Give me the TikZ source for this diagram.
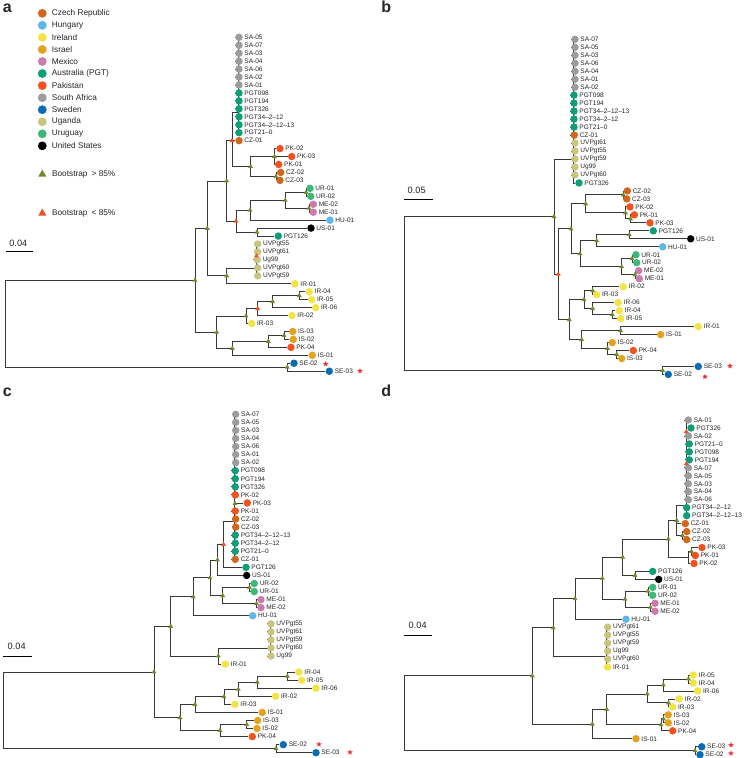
\documentclass[tikz,border=0pt]{standalone}
\usepackage{fontspec}
\setmainfont{Liberation Sans}
\usetikzlibrary{shapes.geometric,backgrounds}
\definecolor{czc}{HTML}{D2661C}
\definecolor{huc}{HTML}{5BB7E8}
\definecolor{irc}{HTML}{F2E443}
\definecolor{isc}{HTML}{E6A11C}
\definecolor{mec}{HTML}{CC7AAE}
\definecolor{auc}{HTML}{0E9E78}
\definecolor{pkc}{HTML}{F4511E}
\definecolor{sac}{HTML}{9C9C9C}
\definecolor{sec}{HTML}{0A6DB3}
\definecolor{ugc}{HTML}{C9C480}
\definecolor{uyc}{HTML}{3DB877}
\definecolor{usc}{HTML}{000000}
\definecolor{bsgc}{HTML}{6E8B2E}
\definecolor{bsrc}{HTML}{E9541E}
\definecolor{starc}{HTML}{E8313A}

\begin{document}
\begin{tikzpicture}[x=0.75pt, y=-0.75pt,
      every node/.style={font=\fontsize{4.9}{5.6}\selectfont, text=black!85},
      leaf/.style={circle, inner sep=0pt, minimum size=5.6pt},
      lab/.style={inner sep=0.4pt, label distance=0.5pt},
      br/.style={draw=black!78, line width=0.62pt},
      bsg/.style={regular polygon, regular polygon sides=3, inner sep=0pt,
                  minimum size=4.3pt, fill=bsgc},
      bsr/.style={bsg, fill=bsrc},
      sstar/.style={star, star points=5, star point ratio=2.3, inner sep=0pt,
                    minimum size=4.4pt, fill=starc},
      lgd/.style={circle, inner sep=0pt, minimum size=6.6pt},
      lgdlab/.style={font=\fontsize{6.2}{7}\selectfont, inner sep=0.5pt, label distance=3pt},
      scl/.style={font=\fontsize{6.9}{8}\selectfont, inner sep=0pt},
      panel/.style={font=\fontsize{12}{14}\selectfont\bfseries, inner sep=0pt, anchor=base west}]
    \useasboundingbox (0,0) rectangle (744,758);

    % panel letters
    \node[panel] (pa) at (2.7,12.3) {a};
    \node[panel] (pb) at (381,12.3) {b};
    \node[panel] (pc) at (2.7,396) {c};
    \node[panel] (pd) at (381,396) {d};

    % legend
    \foreach \col/\lbl [count=\i from 0] in {czc/Czech Republic, huc/Hungary, irc/Ireland,
        isc/Israel, mec/Mexico, auc/Australia (PGT), pkc/Pakistan, sac/South Africa,
        sec/Sweden, ugc/Uganda, uyc/Uruguay, usc/United States}
      \node[lgd, fill=\col, label={[lgdlab]right:\lbl}] (lg\i) at (42.3,{13.3+12.05*\i}) {};
    \node[bsg, minimum size=7pt] (lgg) at (42.3,174.3) {};
    \node[lgdlab, anchor=west] (lggt) at (51.2,174.3) {Bootstrap\enspace> 85\%};
    \node[bsr, minimum size=7pt] (lgr) at (42.3,213.3) {};
    \node[lgdlab, anchor=west] (lgrt) at (51.2,213.3) {Bootstrap\enspace< 85\%};

    % scale bars
    \node[scl] (sa) at (18.3,243.3) {0.04};
    \draw[line width=0.6pt] (6,251.7) -- (33.3,251.7);
    \node[scl] (sb) at (416.7,190) {0.05};
    \draw[line width=0.6pt] (404,199) -- (432.7,199);
    \node[scl] (sc) at (16.7,646.7) {0.04};
    \draw[line width=0.6pt] (3.3,656) -- (31.7,656);
    \node[scl] (sd) at (417.7,625.7) {0.04};
    \draw[line width=0.6pt] (404,635) -- (431.7,635);

    % ---- panel a ----
    \foreach \nm/\x/\col/\lbl [count=\i from 0] in {SA05/239/sac/SA-05, SA07/239/sac/SA-07,
        SA03/239/sac/SA-03, SA04/239/sac/SA-04, SA06/239/sac/SA-06, SA02/239/sac/SA-02,
        SA01/239/sac/SA-01, P098/239/auc/PGT098, P194/239/auc/PGT194, P326/239/auc/PGT326,
        P3412/239/auc/PGT34–2–12, P341213/239/auc/PGT34–2–12–13, P210/239/auc/PGT21–0,
        CZ01/239/czc/CZ-01, PK02/280/pkc/PK-02, PK03/291.7/pkc/PK-03, PK01/278.7/pkc/PK-01,
        CZ02/280.7/czc/CZ-02, CZ03/280/czc/CZ-03, UR01/310/uyc/UR-01, UR02/310.7/uyc/UR-02,
        ME02/313.3/mec/ME-02, ME01/313.3/mec/ME-01, HU01/330/huc/HU-01, US01/311/usc/US-01,
        P126/278.3/auc/PGT126, UV55/257.7/ugc/UVPgt55, UV61/257.7/ugc/UVPgt61,
        Ug99/257.3/ugc/Ug99, UV60/257.7/ugc/UVPgt60, UV59/257.7/ugc/UVPgt59,
        IR01/295/irc/IR-01, IR04/309.3/irc/IR-04, IR05/311.7/irc/IR-05, IR06/315.7/irc/IR-06,
        IR02/292/irc/IR-02, IR03/251.7/irc/IR-03, IS03/292.7/isc/IS-03, IS02/293.3/isc/IS-02,
        PK04/291/pkc/PK-04, IS01/312.3/isc/IS-01, SE02/294/sec/SE-02, SE03/329.3/sec/SE-03}
      \node[leaf, fill=\col, label={[lab]right:\lbl}] (a\nm) at (\x,{37.3+7.95*\i}) {};
    \foreach \nm/\x/\y in {aSAs/238/112.8, aX/232/140.7, aPKCZ/250.7/166.5, aPK/274.5/156.6,
        aCZ/276/176.5, aN1/306/192.4, aN2/309/208.2, aN3/285.3/200.3, aN4/250/210.2,
        aN5/257/232.1, aN6/236/221.2, aNA/226.7/181, aUGs/256.5/268, aUGr/256.5/256,
        aN7/226.7/275.9, aNB/207.3/228.4, aN8/299.3/295.7, aN9/272.7/301.7,
        aN10/257.7/308.6, aN11/246/316, aN12/284/335.5, aN13/268.3/341.4,
        aN14/232.3/348.4, aN15/216.7/332.2, aN16/195/280.3, aSE/287.3/367.3,
        aRoot/5.7/323.8}
      \coordinate (\nm) at (\x,\y);

    % ---- panel b ----
    \foreach \nm/\x/\col/\lbl [count=\i from 0] in {SA07/575/sac/SA-07, SA05/575/sac/SA-05,
        SA03/575/sac/SA-03, SA06/575/sac/SA-06, SA04/575/sac/SA-04, SA01/575/sac/SA-01,
        SA02/575/sac/SA-02, P098/574/auc/PGT098, P194/574/auc/PGT194,
        P341213/574/auc/PGT34–2–12–13, P3412/574/auc/PGT34–2–12, P210/574/auc/PGT21–0,
        CZ01/574.3/czc/CZ-01, UV61/575/ugc/UVPgt61, UV55/575/ugc/UVPgt55,
        UV59/575/ugc/UVPgt59, Ug99/575/ugc/Ug99, UV60/575/ugc/UVPgt60, P326/579/auc/PGT326,
        CZ02/627.3/czc/CZ-02, CZ03/626.7/czc/CZ-03, PK02/630/pkc/PK-02, PK01/634.3/pkc/PK-01,
        PK03/650/pkc/PK-03, P126/653.3/auc/PGT126, US01/690.7/usc/US-01, HU01/662.7/huc/HU-01,
        UR01/636/uyc/UR-01, UR02/636.7/uyc/UR-02, ME02/638.7/mec/ME-02, ME01/639.3/mec/ME-01,
        IR02/623.3/irc/IR-02, IR03/596.7/irc/IR-03, IR06/618.3/irc/IR-06, IR04/619.3/irc/IR-04,
        IR05/620.7/irc/IR-05, IR01/698.3/irc/IR-01, IS01/660.7/isc/IS-01, IS02/612.3/isc/IS-02,
        PK04/633.3/pkc/PK-04, IS03/621.7/isc/IS-03, SE03/698.3/sec/SE-03, SE02/668.3/sec/SE-02}
      \node[leaf, fill=\col, label={[lab]right:\lbl}] (b\nm) at (\x,{39.3+7.98*\i}) {};
    \foreach \nm/\x/\y in {bSAs/573.3/159, bN1/623.3/194.9, bN2/630.5/218.9, bN3/625.5/212.9,
        bN4/585.7/203.9, bN5/629.3/234.8, bN6/596.7/240.8, bN7/632/258.8, bN8/635/274.7,
        bN9/621.7/266.8, bN10/580/253.8, bN11/571/228.9, bN12/592.7/290.7,
        bN13/612.3/314.6, bN14/592.7/308.6, bN15/584/299.7, bN16/620.7/330.6,
        bN17/616.7/354.5, bN18/607.5/348.5, bN19/581.7/339.6, bN20/569.3/319.6,
        bN21/558.3/274.2, bN22/554/216.6, bSE/662.7/370.5, bRoot/404/293.6}
      \coordinate (\nm) at (\x,\y);

    % ---- panel c ----
    \foreach \nm/\x/\col/\lbl [count=\i from 0] in {SA07/235.7/sac/SA-07, SA05/235.7/sac/SA-05,
        SA03/235.7/sac/SA-03, SA04/235.7/sac/SA-04, SA06/235.7/sac/SA-06, SA01/235.7/sac/SA-01,
        SA02/235.7/sac/SA-02, P098/235.3/auc/PGT098, P194/235.3/auc/PGT194,
        P326/235.3/auc/PGT326, PK02/235.3/pkc/PK-02, PK03/247.3/pkc/PK-03,
        PK01/235.3/pkc/PK-01, CZ02/235.7/czc/CZ-02, CZ03/235.7/czc/CZ-03,
        P341213/235.3/auc/PGT34–2–12–13, P3412/235.3/auc/PGT34–2–12, P210/235.3/auc/PGT21–0,
        CZ01/235.3/czc/CZ-01, P126/246/auc/PGT126, US01/246.7/usc/US-01,
        UR02/254.3/uyc/UR-02, UR01/254.3/uyc/UR-01, ME01/261/mec/ME-01, ME02/261/mec/ME-02,
        HU01/252.7/huc/HU-01, UV55/271/ugc/UVPgt55, UV61/271/ugc/UVPgt61,
        UV59/271/ugc/UVPgt59, UV60/271/ugc/UVPgt60, Ug99/271/ugc/Ug99, IR01/225.3/irc/IR-01,
        IR04/299/irc/IR-04, IR05/301.7/irc/IR-05, IR06/316/irc/IR-06, IR02/275.7/irc/IR-02,
        IR03/235/irc/IR-03, IS01/262.3/isc/IS-01, IS03/257.7/isc/IS-03, IS02/257/isc/IS-02,
        PK04/252.3/pkc/PK-04, SE02/283.3/sec/SE-02, SE03/316/sec/SE-03}
      \node[leaf, fill=\col, label={[lab]right:\lbl}] (c\nm) at (\x,{414.3+8.057*\i}) {};
    \foreach \nm/\x/\y in {cSAs/234.5/521.7, cPKm/235/503.5, cN1/223.5/544.5, cN2/217.5/560,
        cN3/249.5/587.5, cN4/256.5/603.7, cN5/222.7/595.6, cN6/210/577.8, cN7/193.3/596.8,
        cUGs/270/648, cN8/218.3/656, cN9/170.7/626.4, cN10/287.3/676.2, cN11/257.3/682.2,
        cN12/238.3/689.3, cN13/224/696.8, cN14/195/704.6, cN15/246.7/724.5,
        cN16/220/730.5, cN17/180/717.6, cN18/154/672, cSE/276/748.6, cRoot/3.3/710.3}
      \coordinate (\nm) at (\x,\y);

    % ---- panel d ----
    \foreach \nm/\x/\col/\lbl [count=\i from 0] in {SA01/688.3/sac/SA-01, P326/691/auc/PGT326,
        SA02/688.3/sac/SA-02, P210/689.3/auc/PGT21–0, P098/689.3/auc/PGT098,
        P194/689.3/auc/PGT194, SA07/688.3/sac/SA-07, SA05/688.3/sac/SA-05,
        SA03/688.3/sac/SA-03, SA04/688.3/sac/SA-04, SA06/688.3/sac/SA-06,
        P3412/686.7/auc/PGT34–2–12, P341213/686.7/auc/PGT34–2–12–13, CZ01/685.3/czc/CZ-01,
        CZ02/686.7/czc/CZ-02, CZ03/686.7/czc/CZ-03, PK03/702/pkc/PK-03, PK01/695.3/pkc/PK-01,
        PK02/694/pkc/PK-02, P126/652.7/auc/PGT126, US01/658.7/usc/US-01,
        UR01/652.7/uyc/UR-01, UR02/652.7/uyc/UR-02, ME01/655/mec/ME-01, ME02/655/mec/ME-02,
        HU01/626/huc/HU-01, UV61/607.7/ugc/UVPgt61, UV55/607.7/ugc/UVPgt55,
        UV59/607.7/ugc/UVPgt59, Ug99/607.7/ugc/Ug99, UV60/607.7/ugc/UVPgt60,
        IR01/607.7/irc/IR-01, IR05/693.3/irc/IR-05, IR04/693.3/irc/IR-04, IR06/697.7/irc/IR-06,
        IR02/679.3/irc/IR-02, IR03/672.7/irc/IR-03, IS03/668.3/isc/IS-03, IS02/668.3/isc/IS-02,
        PK04/672.7/pkc/PK-04, IS01/636/isc/IS-01, SE03/701.7/sec/SE-03, SE02/700/sec/SE-02}
      \node[leaf, fill=\col, label={[lab]right:\lbl}] (d\nm) at (\x,{420+7.969*\i}) {};
    \foreach \nm/\x/\y in {dSAs/686.3/505.3, dSr1/686.3/431.8, dSr2/686.3/463.8,
        dCZ/682.5/535.5, dN1/676.7/520.5, dPK1/691.5/551.5, dPK/688.5/557.4, dN2/668.3/539,
        dN3/635/575.4, dN4/622.7/557.2, dN5/648/591.3, dN6/650.5/607.3, dN7/625/599.3,
        dN8/602.3/578.3, dN9/575/598.8, dUGs/606.2/656.7, dN10/553.3/627.8,
        dIR54/688.5/679, dN11/663.3/685, dIR23/668.5/702.9, dN12/647.3/694,
        dIS/663.5/718.9, dN13/661/724.8, dN14/606.7/709.4, dN15/592.3/724.1,
        dN16/532.3/675.9, dSE/695/750.7, dRoot/404/713.3}
      \coordinate (\nm) at (\x,\y);

    % branches, behind the tips
    \begin{scope}[on background layer]
      \fill[white] (0,0) rectangle (744,758);
      \foreach \q in {SA05,SA07,SA03,SA04,SA06,SA02,SA01,P098,P194,P326,P3412,P341213,P210}
        \draw[br] (aSAs) |- (a\q);
      \foreach \q in {UV55,UV61,Ug99,UV60,UV59}
        \draw[br] (aUGs) |- (a\q);
      \foreach \p/\q in {aX/aSAs, aX/aCZ01, aX/aPKCZ, aPKCZ/aPK, aPKCZ/aCZ, aPK/aPK02,
          aPK/aPK03, aPK/aPK01, aCZ/aCZ02, aCZ/aCZ03, aN1/aUR01, aN1/aUR02, aN2/aME02,
          aN2/aME01, aN3/aN1, aN3/aN2, aN4/aN3, aN4/aHU01, aN5/aUS01, aN5/aP126, aN6/aN4,
          aN6/aN5, aNA/aX, aNA/aN6, aN7/aUGs, aN7/aIR01, aNB/aNA, aNB/aN7, aN8/aIR04,
          aN8/aIR05, aN9/aN8, aN9/aIR06, aN10/aN9, aN10/aIR02, aN11/aN10, aN11/aIR03,
          aN12/aIS03, aN12/aIS02, aN13/aN12, aN13/aPK04, aN14/aN13, aN14/aIS01,
          aN15/aN11, aN15/aN14, aN16/aNB, aN16/aN15, aSE/aSE02, aSE/aSE03,
          aRoot/aN16, aRoot/aSE}
        \draw[br] (\p) |- (\q);
      \foreach \q in {SA07,SA05,SA03,SA06,SA04,SA01,SA02,P098,P194,P341213,P3412,P210,
          CZ01,UV61,UV55,UV59,Ug99,UV60,P326}
        \draw[br] (bSAs) |- (b\q);
      \foreach \p/\q in {bN1/bCZ02, bN1/bCZ03, bN2/bPK01, bN2/bPK03, bN3/bPK02, bN3/bN2,
          bN4/bN1, bN4/bN3, bN5/bP126, bN5/bUS01, bN6/bN5, bN6/bHU01, bN7/bUR01,
          bN7/bUR02, bN8/bME02, bN8/bME01, bN9/bN7, bN9/bN8, bN10/bN6, bN10/bN9,
          bN11/bN4, bN11/bN10, bN12/bIR02, bN12/bIR03, bN13/bIR04, bN13/bIR05,
          bN14/bIR06, bN14/bN13, bN15/bN12, bN15/bN14, bN16/bIR01, bN16/bIS01,
          bN17/bPK04, bN17/bIS03, bN18/bIS02, bN18/bN17, bN19/bN16, bN19/bN18,
          bN20/bN15, bN20/bN19, bN21/bN11, bN21/bN20, bN22/bSAs, bN22/bN21,
          bSE/bSE03, bSE/bSE02, bRoot/bN22, bRoot/bSE}
        \draw[br] (\p) |- (\q);
      \foreach \q in {SA07,SA05,SA03,SA04,SA06,SA01,SA02,P098,P194,P326,PK02,PK03,PK01,
          CZ02,CZ03,P341213,P3412,P210,CZ01}
        \draw[br] (cSAs) |- (c\q);
      \foreach \q in {UV55,UV61,UV59,UV60,Ug99}
        \draw[br] (cUGs) |- (c\q);
      \foreach \p/\q in {cN1/cSAs, cN1/cP126, cN2/cN1, cN2/cUS01, cN3/cUR02, cN3/cUR01,
          cN4/cME01, cN4/cME02, cN5/cN3, cN5/cN4, cN6/cN2, cN6/cN5, cN7/cN6, cN7/cHU01,
          cN8/cUGs, cN8/cIR01, cN9/cN7, cN9/cN8, cN10/cIR04, cN10/cIR05, cN11/cN10,
          cN11/cIR06, cN12/cN11, cN12/cIR02, cN13/cN12, cN13/cIR03, cN14/cN13,
          cN14/cIS01, cN15/cIS03, cN15/cIS02, cN16/cN15, cN16/cPK04, cN17/cN14,
          cN17/cN16, cN18/cN9, cN18/cN17, cSE/cSE02, cSE/cSE03, cRoot/cN18, cRoot/cSE}
        \draw[br] (\p) |- (\q);
      \foreach \q in {SA01,P326,SA02,P210,P098,P194,SA07,SA05,SA03,SA04,SA06,P3412,P341213}
        \draw[br] (dSAs) |- (d\q);
      \foreach \q in {UV61,UV55,UV59,Ug99,UV60,IR01}
        \draw[br] (dUGs) |- (d\q);
      \foreach \p/\q in {dCZ/dCZ02, dCZ/dCZ03, dN1/dSAs, dN1/dCZ01, dN1/dCZ, dPK1/dPK03,
          dPK1/dPK01, dPK/dPK1, dPK/dPK02, dN2/dN1, dN2/dPK, dN3/dP126, dN3/dUS01,
          dN4/dN2, dN4/dN3, dN5/dUR01, dN5/dUR02, dN6/dME01, dN6/dME02, dN7/dN5,
          dN7/dN6, dN8/dN4, dN8/dN7, dN9/dN8, dN9/dHU01, dN10/dN9, dN10/dUGs,
          dIR54/dIR05, dIR54/dIR04, dN11/dIR54, dN11/dIR06, dIR23/dIR02, dIR23/dIR03,
          dN12/dN11, dN12/dIR23, dIS/dIS03, dIS/dIS02, dN13/dIS, dN13/dPK04,
          dN14/dN12, dN14/dN13, dN15/dN14, dN15/dIS01, dN16/dN10, dN16/dN15,
          dSE/dSE03, dSE/dSE02, dRoot/dN16, dRoot/dSE}
        \draw[br] (\p) |- (\q);
    \end{scope}

    % bootstrap marks
    \foreach \m in {aPKCZ, aPK, aCZ, aN1, aN2, aN3, aN4, aN5, aNA, aN7, aNB, aN8, aN9,
        aN11, aN12, aN13, aN14, aN15, aN16, aSE,
        bN1, bN2, bN3, bN4, bN5, bN6, bN7, bN8, bN9, bN10, bN11, bN12, bN13, bN14,
        bN15, bN16, bN17, bN18, bN19, bN20, bN22, bSE,
        cPKm, cN2, cN3, cN4, cN5, cN6, cN7, cN8, cN9, cN10, cN11, cN12, cN13, cN14,
        cN15, cN16, cN17, cN18, cSE,
        dCZ, dN1, dPK1, dN2, dN3, dN4, dN5, dN6, dN7, dN8, dN9, dN10, dIR54, dN11,
        dIR23, dN12, dIS, dN13, dN14, dN15, dN16, dSE}
      \node[bsg] (g\m) at (\m) {};
    \foreach \m in {aX, aN6, aN10, aUGr, bN21, cN1, dSr1, dSr2}
      \node[bsr] (r\m) at (\m) {};

    % stars at the Swedish isolates
    \node[sstar] (aS2) at (325.7,364) {};
    \node[sstar] (aS3) at (360,371) {};
    \node[sstar] (bS3) at (730,366) {};
    \node[sstar] (bS2) at (705,376.7) {};
    \node[sstar] (cS2) at (319,744.3) {};
    \node[sstar] (cS3) at (350,752.3) {};
    \node[sstar] (dS3) at (731,745) {};
    \node[sstar] (dS2) at (731,753.3) {};
  \end{tikzpicture}
\end{document}
